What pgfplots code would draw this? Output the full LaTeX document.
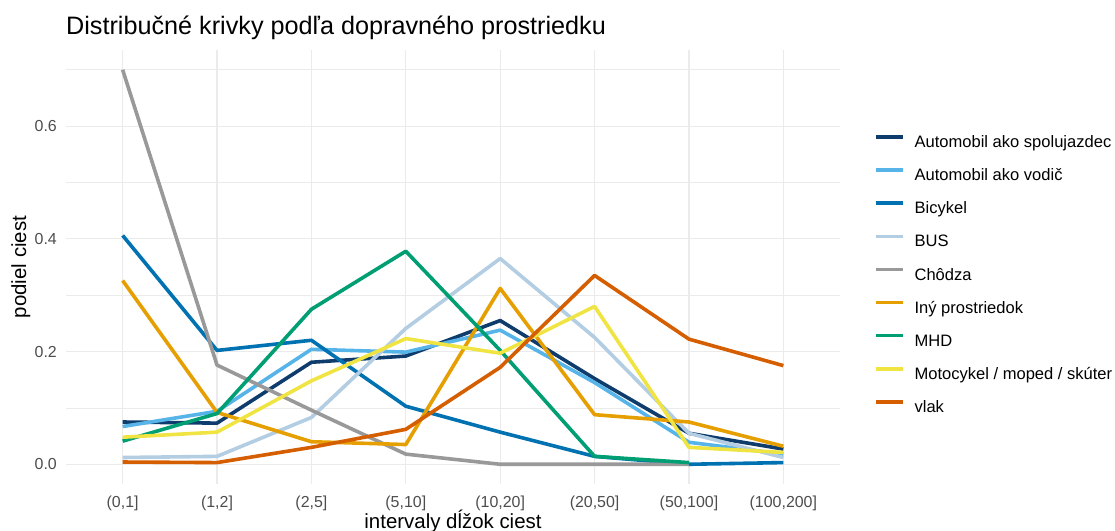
\documentclass[border=0pt]{standalone}
\usepackage{fontspec}
\setmainfont{Liberation Sans}
\usepackage{pgfplots}
\pgfplotsset{compat=1.18}

\definecolor{cSpolu}{RGB}{14,60,108}
\definecolor{cVodic}{RGB}{86,180,233}
\definecolor{cBicykel}{RGB}{0,114,178}
\definecolor{cBus}{RGB}{179,205,227}
\definecolor{cChodza}{RGB}{153,153,153}
\definecolor{cIny}{RGB}{230,159,0}
\definecolor{cMhd}{RGB}{0,158,115}
\definecolor{cMoto}{RGB}{240,228,66}
\definecolor{cVlak}{RGB}{213,94,0}
\definecolor{gridc}{RGB}{235,235,235}
\definecolor{tickc}{RGB}{77,77,77}

\begin{document}
\begin{tikzpicture}
% page = 1115 x 531 px, panel lower-left at (66,484) px
\path[use as bounding box] (-66bp,-47bp) rectangle (1049bp,484bp);
\begin{axis}[
  scale only axis,
  width=774bp, height=434bp,
  xmin=-0.6, xmax=7.6,
  ymin=-0.035, ymax=0.735,
  xtick={0,1,2,3,4,5,6,7},
  xticklabels={{(0,1]},{(1,2]},{(2,5]},{(5,10]},{(10,20]},{(20,50]},{(50,100]},{(100,200]}},
  ytick={0,0.2,0.4,0.6},
  yticklabels={0.0,0.2,0.4,0.6},
  minor ytick={0.1,0.3,0.5,0.7},
  xmajorgrids, ymajorgrids, yminorgrids,
  major grid style={color=gridc, line width=1.1bp},
  minor grid style={color=gridc, line width=0.6bp},
  axis line style={draw=none},
  major tick length=0pt, minor tick length=0pt,
  tick style={draw=none},
  ticklabel style={font=\fontsize{16}{18}\selectfont, text=tickc},
  xticklabel style={anchor=base, inner sep=0pt, yshift=-23bp},
  yticklabel style={anchor=east, inner sep=0pt, xshift=-9bp},
  xlabel={intervaly dĺžok ciest},
  xlabel style={font=\fontsize{20.5}{23}\selectfont, at={(axis description cs:0.5,0)}, anchor=base, inner sep=0pt, yshift=-44bp},
  every axis plot/.append style={line width=3.6bp, line join=round, no markers},
  legend cell align=left,
  legend image code/.code={\draw[#1] (0bp,6.6bp) -- (27bp,6.6bp);},
  legend style={at={(axis description cs:1,0)}, anchor=north west,
    xshift=34bp, yshift=348.7bp, draw=none, fill=none,
    inner sep=0pt, outer sep=0pt, row sep=16.7bp, column sep=10bp,
    font=\fontsize{16.6}{18}\selectfont,
    nodes={inner sep=0pt, text height=12bp, text depth=4bp}},
]
\addplot[cSpolu] coordinates {(0,0.075) (1,0.073) (2,0.181) (3,0.192) (4,0.255) (5,0.152) (6,0.055) (7,0.027)};
\addlegendentry{Automobil ako spolujazdec}
\addplot[cVodic] coordinates {(0,0.067) (1,0.094) (2,0.204) (3,0.199) (4,0.238) (5,0.145) (6,0.039) (7,0.018)};
\addlegendentry{Automobil ako vodič}
\addplot[cBicykel] coordinates {(0,0.406) (1,0.202) (2,0.220) (3,0.103) (4,0.057) (5,0.014) (6,0.000) (7,0.003)};
\addlegendentry{Bicykel}
\addplot[cBus] coordinates {(0,0.012) (1,0.014) (2,0.083) (3,0.241) (4,0.365) (5,0.225) (6,0.055) (7,0.012)};
\addlegendentry{BUS}
\addplot[cChodza] coordinates {(0,0.700) (1,0.176) (2,0.096) (3,0.018) (4,0.000) (5,0.000) (6,0.000)};
\addlegendentry{Chôdza}
\addplot[cIny] coordinates {(0,0.326) (1,0.092) (2,0.040) (3,0.035) (4,0.312) (5,0.088) (6,0.075) (7,0.032)};
\addlegendentry{Iný prostriedok}
\addplot[cMhd] coordinates {(0,0.041) (1,0.090) (2,0.275) (3,0.378) (4,0.202) (5,0.014) (6,0.003)};
\addlegendentry{MHD}
\addplot[cMoto] coordinates {(0,0.048) (1,0.057) (2,0.148) (3,0.223) (4,0.197) (5,0.280) (6,0.030) (7,0.021)};
\addlegendentry{Motocykel / moped / skúter}
\addplot[cVlak] coordinates {(0,0.004) (1,0.003) (2,0.030) (3,0.062) (4,0.172) (5,0.335) (6,0.222) (7,0.175)};
\addlegendentry{vlak}
\end{axis}
\node[anchor=base, rotate=90, inner sep=0pt, font=\fontsize{20.5}{23}\selectfont] at (-40bp,217bp) {podiel ciest};
\node[anchor=base west, inner sep=0pt, font=\fontsize{25.3}{28}\selectfont] at (0bp,449.5bp) {Distribučné krivky podľa dopravného prostriedku};
\end{tikzpicture}
\end{document}
